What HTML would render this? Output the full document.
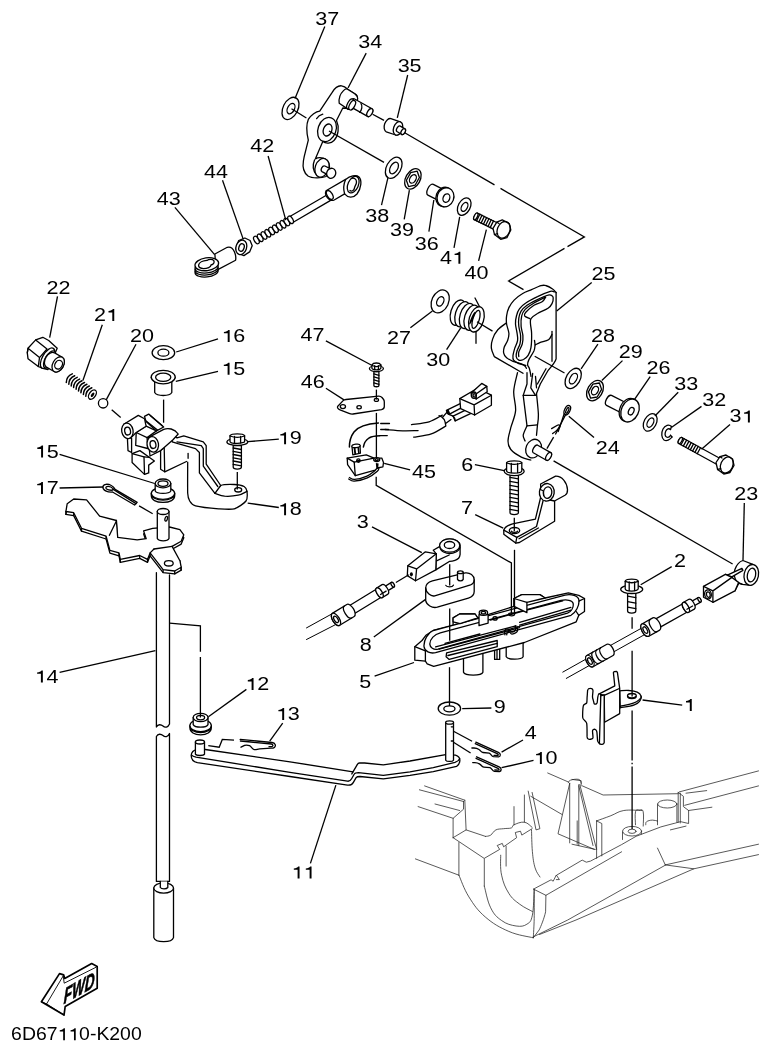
<!DOCTYPE html>
<html><head><meta charset="utf-8"><title>6D67110-K200</title>
<style>
html,body{margin:0;padding:0;background:#fff}
svg{display:block;filter:grayscale(1)}
.p{fill:none;stroke:#000;stroke-width:1.3;stroke-linecap:round;stroke-linejoin:round}
.w{fill:#fff;stroke:#000;stroke-width:1.3;stroke-linecap:round;stroke-linejoin:round}
.l{fill:none;stroke:#000;stroke-width:1.3;stroke-linecap:butt}
.h{fill:none;stroke:#222;stroke-width:.75;stroke-linecap:round;stroke-linejoin:round}
.hw{fill:#fff;stroke:#222;stroke-width:.75;stroke-linecap:round;stroke-linejoin:round}
.k{fill:#000;stroke:none}
.t text,text{font-family:"Liberation Sans",sans-serif;font-size:18.3px;fill:#000}
.cap{font-size:18.3px}
</style></head><body>
<svg width="772" height="1053" viewBox="0 0 772 1053">
<rect width="772" height="1053" fill="#fff"/>
<path class="h" d="M419.4 789.8L463.5 801.5"/>
<path class="h" d="M424.6 785.9L464.8 800.2"/>
<path class="h" d="M418.1 806.6L453.1 818.3"/>
<path class="h" d="M435.0 804.0L459.6 810.5"/>
<path class="h" d="M463.5 801.5L463.5 809.2L453.1 818.3L453.1 837.7"/>
<path class="h" d="M464.8 800.2L466.1 829.9"/>
<path class="h" d="M453.1 837.7L466.1 829.9L485.5 836.4"/>
<path class="h" d="M485.5 836.4C486.5 836.2 488.6 836.4 490.7 835.1C492.7 833.8 493.3 831.2 495.9 829.9C498.4 828.7 500.5 829.1 503.6 828.7C506.7 828.2 509.3 828.7 511.4 827.9C513.5 827.1 511.4 825.9 514.0 824.8C516.6 823.6 520.7 821.7 524.4 822.2C528.0 822.7 530.6 826.3 532.1 827.4"/>
<path class="h" d="M453.1 837.7L484.2 858.4L499.7 849.4L497.2 845.5L502.3 843.4L503.6 846.8L516.6 837.7L515.3 832.5L520.5 831.2L521.8 835.1L532.1 828.7"/>
<path class="h" d="M514.0 806.6L514.0 824.8"/>
<path class="h" d="M524.4 795.0L524.4 822.2"/>
<path class="h" d="M528.2 791.1L536.0 829.9L539.9 828.7L532.1 792.4"/>
<path class="h" d="M530.8 796.3L561.9 814.4"/>
<path class="h" d="M547.7 773.0L568.4 782.0"/>
<path class="h" d="M568.4 782.8C568.8 782.3 568.4 780.9 570.5 780.2C572.5 779.5 576.6 778.8 578.8 779.4C580.9 780.1 580.8 782.5 581.3 783.3"/>
<path class="h" d="M569.7 783.3L558.0 833.8L594.3 849.4"/>
<path class="h" d="M578.8 785.9L593.0 845.5"/>
<path class="h" d="M569.7 783.3L569.7 842.9"/>
<path class="h" d="M578.8 784.6L578.8 845.5"/>
<path class="h" d="M533.5 889.1L551.1 879.8L553.2 881.2L556.3 875.0L559.4 879.6L556.3 879.6"/>
<path class="h" d="M556.9 875.0L582.2 860.1L586.3 862.2L590.5 861.1L621.6 844.6L636.1 836.3L660.9 826.9L680.0 821.8"/>
<path class="h" d="M533.5 889.1L545.9 895.3L621.6 851.8"/>
<path class="h" d="M545.9 895.3L545.6 911.8C544 919 541 926 539.2 929.9L533.3 937.7"/>
<path class="h" d="M622.5 831.2L622.5 839.5M641.4 831.2L641.4 834"/>
<ellipse class="hw" cx="632.1" cy="831.2" rx="9.5" ry="4.8"/>
<ellipse class="h" cx="632.1" cy="831.3" rx="4" ry="2.1"/>
<path class="h" d="M635.5 824.8C635.5 822.2 634.7 814.8 635.5 811.8C636.2 808.9 637.8 810.0 639.4 810.0C640.9 810.0 642.5 808.6 643.2 811.8C644.0 815.0 643.2 823.2 643.2 826.1"/>
<path class="hw" d="M657.5 804L657.5 824.8L676.9 822L676.9 804Z" style="stroke:none"/>
<path class="h" d="M657.5 804.0L657.5 824.8"/>
<path class="h" d="M676.9 804.0L676.9 822.2"/>
<ellipse class="hw" cx="667.3" cy="804" rx="9.6" ry="4"/>
<path class="h" d="M645.8 824.8C646.0 824.1 645.3 822.6 646.6 821.7C647.9 820.7 650.1 820.2 652.3 820.1C654.5 820.0 656.5 820.9 657.5 821.1"/>
<path class="h" d="M678.2 792.4L678.2 822.2"/>
<path class="h" d="M680.3 793.2L680.3 823.0"/>
<path class="h" d="M678.2 792.4L683.4 796.3L683.4 806.6L688.6 810.5L688.6 823.5L680.8 821.7"/>
<path class="h" d="M679.3 791.9L758.5 770.9"/>
<path class="h" d="M684.7 805.3L758.5 785.9"/>
<path class="h" d="M688.6 810.5L711.9 807.2"/>
<path class="h" d="M686.0 793.2L706.7 790.6"/>
<path class="h" d="M582.4 785.9L603.1 795.0L678.2 793.7"/>
<path class="h" d="M579.8 784.6L596.6 849.4"/>
<path class="h" d="M572.0 779.4L581.1 780.7L581.1 785.9"/>
<path class="h" d="M596.6 820.9L601.8 823.5L601.8 855.9"/>
<path class="h" d="M596.6 820.9L596.6 858.4"/>
<path class="h" d="M596.6 820.9C599.5 819.8 605.4 817.8 610.9 815.7C616.3 813.6 617.6 811.6 623.8 810.5C630.0 809.5 638.3 810.5 641.9 810.5"/>
<path class="h" d="M572.0 844.2L595.3 849.4"/>
<path class="h" d="M577.2 820.9L577.2 844.2"/>
<path class="h" d="M657.5 848.1L665.3 864.9"/>
<path class="h" d="M665.3 864.9L758.5 844.2"/>
<path class="h" d="M665.3 864.9L693.8 868.8L758.5 854.6"/>
<path class="h" d="M670.4 829.9L686.0 826.1"/>
<path class="h" d="M458.9 842.5L458.9 875.2"/>
<path class="h" d="M415.4 858.9L458.9 875.2"/>
<path class="h" d="M458.9 875.2C460.9 879.5 463.7 888.6 468.9 896.9C474.2 905.3 477.3 910.0 485.2 916.9C493.2 923.8 499.2 927.2 508.8 931.4C518.4 935.6 528.4 936.5 533.3 937.8"/>
<path class="h" d="M484.3 858.9L484.3 886.1"/>
<path class="h" d="M484.3 886.1C485.6 890.4 487.2 900.9 490.7 907.8C494.1 914.7 496.5 916.9 501.6 920.5C506.6 924.2 511.0 925.2 516.1 926.0C521.1 926.7 523.7 926.3 526.9 924.2C530.2 922.0 530.9 922.0 532.4 915.1C533.8 908.2 533.8 894.8 534.2 889.7"/>
<path class="h" d="M500.7 855.2C500.8 859.2 499.9 867.6 501.6 875.2C503.2 882.8 505.2 887.5 508.8 893.3C512.4 899.1 515.0 900.6 519.7 904.2C524.4 907.8 529.9 910.0 532.4 911.5"/>
<path class="h" d="M506.1 846.2L506.1 866.1"/>
<path class="h" d="M531.5 829.8C531.7 834.2 531.7 844.0 532.4 851.6C533.1 859.2 533.6 862.9 535.1 867.9C536.6 873.0 539.0 875.2 540.0 877.0"/>
<path class="h" d="M534.2 889.7C534.2 893.6 534.3 912.3 534.2 918.7C534.1 925.1 533.4 935.2 533.3 937.8"/>
<path class="h" d="M533 937L567.7 920L665.1 865.3M539.5 934.5L576 920L693.8 868.8"/>
<ellipse class="w" cx="290.5" cy="108.4" rx="7.4" ry="11.9" transform="rotate(27 290.5 108.4)"/>
<ellipse class="p" cx="291" cy="108.6" rx="3.4" ry="5.6" transform="rotate(27 291 108.6)"/>
<path class="w" d="M319.7 111.1L332.2 92.4C334.5 88.5 338 85.5 341.5 85.8C344 86 346 87.5 347.7 89.3L356 94.5C357.6 96 357.6 99 356 101.5L352.5 108.8L342.8 108L336.5 120.5C339.5 127 338.5 136 334 140.5C331 143.5 326 144 322.8 141.5L315.4 158.8C320 156.5 326.5 158 328.8 163C330.3 167 329.5 173 326 176.5C321.5 178.3 312 178.5 308 176C303.5 172.5 302.6 166 303.4 161L304.2 156.7L308.3 140.1C306.4 132 306.4 124 308.3 119.4C311 115 316 111.5 319.7 111.1Z"/>
<path class="p" d="M322.8 114.2C320 115 317.8 116.8 316.6 118.6"/>
<ellipse class="w" cx="327" cy="129.5" rx="9" ry="12.4" transform="rotate(20 327 129.5)"/>
<ellipse class="p" cx="327.6" cy="130" rx="4.2" ry="6.2" transform="rotate(20 327.6 130)"/>
<path class="w" d="M347.1 89L354.7 93.7C357 95.5 358.2 97.8 357.4 100L353.4 108.4L348.3 109.4L339.2 103.2C338.6 98.5 340.5 93.5 343.5 90.6C344.6 89.5 346 88.8 347.1 89Z"/>
<path class="w" d="M349.8 106.4L367.6 116.4A2.4 4.4 29.3 0 0 372.0 108.8L354.2 98.8A2.4 4.4 29.3 0 0 349.8 106.4Z"/>
<ellipse class="w" cx="369.8" cy="112.6" rx="2.4" ry="4.4" transform="rotate(29.3 369.8 112.6)"/>
<path class="p" d="M361 103.6C362.6 105.5 362 110 359.6 112.4"/>
<ellipse class="w" cx="350.2" cy="104" rx="2.6" ry="5.6" transform="rotate(28 350.2 104)"/>
<ellipse class="w" cx="352.2" cy="105.2" rx="2.6" ry="5.2" transform="rotate(28 352.2 105.2)"/>
<path class="p" d="M314.6 159.8C312.5 165 312.5 170.5 316.6 174.8"/>
<ellipse class="w" cx="322" cy="167.8" rx="6.8" ry="9.6" transform="rotate(20 322 167.8)"/>
<path class="w" d="M321.9 171.6L330.0 175.8A2.2 3.2 27.4 0 0 333.0 170.2L324.9 166.0A2.2 3.2 27.4 0 0 321.9 171.6Z"/>
<ellipse class="w" cx="331.5" cy="173.0" rx="2.2" ry="3.2" transform="rotate(27.4 331.5 173.0)"/>
<ellipse class="w" cx="331.2" cy="173.3" rx="4.5" ry="5.1" transform="rotate(20 331.2 173.3)"/>
<path class="w" d="M386.3 131.8L395.7 135.0A4.4 7 18.8 0 0 400.3 121.8L390.9 118.6A4.4 7 18.8 0 0 386.3 131.8Z"/>
<ellipse class="w" cx="398.0" cy="128.4" rx="4.4" ry="7" transform="rotate(18.8 398.0 128.4)"/>
<path class="w" d="M396.9 131.5L401.5 134.3A1.9 3.2 31.3 0 0 404.9 128.9L400.3 126.1A1.9 3.2 31.3 0 0 396.9 131.5Z"/>
<ellipse class="w" cx="403.2" cy="131.6" rx="1.9" ry="3.2" transform="rotate(31.3 403.2 131.6)"/>
<ellipse class="w" cx="393.7" cy="167.8" rx="7.2" ry="11.4" transform="rotate(29 393.7 167.8)"/>
<ellipse class="p" cx="394" cy="168" rx="3.7" ry="6.3" transform="rotate(29 394 168)"/>
<ellipse class="w" cx="412.9" cy="178.9" rx="7.2" ry="11" transform="rotate(29 412.9 178.9)"/>
<path class="p" d="M415.1 185.2L408.6 186.6L406.4 180.3L410.7 172.6L417.2 171.2L419.4 177.5Z"/>
<ellipse class="p" cx="412.9" cy="178.9" rx="3.0" ry="4.6" transform="rotate(29 412.9 178.9)"/>
<path class="w" d="M443.7 189.6L433.3 184.4A3 6 -153.4 0 0 427.9 195.2L438.3 200.4A3 6 -153.4 0 0 443.7 189.6Z"/>
<ellipse class="w" cx="444.3" cy="196.9" rx="8.2" ry="9.8" transform="rotate(20 444.3 196.9)"/>
<ellipse class="w" cx="445.5" cy="197.3" rx="8.3" ry="9.7" transform="rotate(20 445.5 197.3)"/>
<ellipse class="p" cx="446.4" cy="198.1" rx="3.3" ry="4.4" transform="rotate(20 446.4 198.1)"/>
<ellipse class="w" cx="464.2" cy="206.6" rx="6" ry="9.3" transform="rotate(28 464.2 206.6)"/>
<ellipse class="p" cx="464.5" cy="206.9" rx="2.9" ry="4.8" transform="rotate(28 464.5 206.9)"/>
<path class="w" d="M496.6 222.5L477.4 213.1A1.6 3.7 -153.9 0 0 474.2 219.7L493.4 229.1A1.6 3.7 -153.9 0 0 496.6 222.5Z"/>
<ellipse class="w" cx="475.8" cy="216.4" rx="1.6" ry="3.7" transform="rotate(-153.9 475.8 216.4)"/>
<path class="p" d="M476.5 220.9L479.8 214.2"/>
<path class="p" d="M478.8 222.0L482.0 215.3"/>
<path class="p" d="M481.1 223.1L484.3 216.5"/>
<path class="p" d="M483.4 224.2L486.6 217.6"/>
<path class="p" d="M485.7 225.3L488.9 218.7"/>
<path class="p" d="M488.0 226.5L491.2 219.8"/>
<path class="p" d="M490.2 227.6L493.5 220.9"/>
<path class="w" d="M493 228.4L496.8 222.2L502.3 219.8L509.3 223.7L510.8 230L506.9 237.7L500.7 239.3L494.5 234.6Z"/>
<ellipse class="p" cx="503.6" cy="229.8" rx="6.2" ry="8.6" transform="rotate(22 503.6 229.8)"/>
<path class="p" d="M496.8 222.2L499 223.5M494.5 234.6L497.6 233.5"/>
<path class="p" d="M290.3 216.2L326.8 195M293.7 222L330.2 200.6"/>
<ellipse class="w" cx="256.4" cy="240.0" rx="2.2" ry="4.1" transform="rotate(-30.5 256.4 240.0)"/>
<ellipse class="w" cx="260.2" cy="237.8" rx="2.2" ry="4.1" transform="rotate(-30.5 260.2 237.8)"/>
<ellipse class="w" cx="264.0" cy="235.5" rx="2.2" ry="4.1" transform="rotate(-30.5 264.0 235.5)"/>
<ellipse class="w" cx="267.8" cy="233.3" rx="2.2" ry="4.1" transform="rotate(-30.5 267.8 233.3)"/>
<ellipse class="w" cx="271.6" cy="231.0" rx="2.2" ry="4.1" transform="rotate(-30.5 271.6 231.0)"/>
<ellipse class="w" cx="275.4" cy="228.8" rx="2.2" ry="4.1" transform="rotate(-30.5 275.4 228.8)"/>
<ellipse class="w" cx="279.2" cy="226.5" rx="2.2" ry="4.1" transform="rotate(-30.5 279.2 226.5)"/>
<ellipse class="w" cx="283.0" cy="224.3" rx="2.2" ry="4.1" transform="rotate(-30.5 283.0 224.3)"/>
<ellipse class="w" cx="286.8" cy="222.0" rx="2.2" ry="4.1" transform="rotate(-30.5 286.8 222.0)"/>
<ellipse class="w" cx="290.6" cy="219.8" rx="2.2" ry="4.1" transform="rotate(-30.5 290.6 219.8)"/>
<path class="w" d="M326 190.8L345.6 179.4C350 176 356 174.5 359 177C362 180 361.5 188 357 194C353 198.5 348 198 344.6 193.9L334.2 200C331 201.5 327.5 199 326 195.5C325.2 193.5 325.3 192 326 190.8Z"/>
<ellipse class="p" cx="329.8" cy="195" rx="2.6" ry="4.9" transform="rotate(-31 329.8 195)"/>
<ellipse class="p" cx="353.2" cy="184.6" rx="5.2" ry="8.8" transform="rotate(24 353.2 184.6)"/>
<path class="p" d="M351.5 178.5C354 177.5 356.5 179 356.5 182C356.5 185 354.5 186 354.5 188C354 190.5 351.5 192 350 190.5"/>
<path class="p" d="M345.6 179.4C343.5 184 343.5 190 344.6 193.9"/>
<path class="w" d="M238.7 240.5L244.9 238L250.1 240.5L252.2 245.7L249.6 251.9L243.9 255.6L239.5 254L236 248Z"/>
<ellipse class="w" cx="241.3" cy="247.3" rx="5.3" ry="7.4" transform="rotate(18 241.3 247.3)"/>
<ellipse class="p" cx="241.5" cy="247.5" rx="2.6" ry="3.9" transform="rotate(18 241.5 247.5)"/>
<path class="w" d="M214.9 254L227.3 247.3C230.5 246.5 233 248.5 234.5 252C235.8 255 236 258 235.6 260.2L215.9 270.6Z"/>
<ellipse class="w" cx="206.6" cy="271.59999999999997" rx="11.6" ry="5.4" transform="rotate(-6 206.6 271.59999999999997)"/>
<ellipse class="w" cx="206.6" cy="269.59999999999997" rx="11.6" ry="5.4" transform="rotate(-6 206.6 269.59999999999997)"/>
<ellipse class="w" cx="206.6" cy="267.59999999999997" rx="11.6" ry="5.4" transform="rotate(-6 206.6 267.59999999999997)"/>
<ellipse class="w" cx="206.8" cy="264.2" rx="11.9" ry="6.4" transform="rotate(-8 206.8 264.2)"/>
<path class="p" d="M198.6 265.2C199 262.4 203 260.6 207 260.4C208.6 259.2 212.4 258.8 213.8 260.6C214.8 262.6 213.4 264.4 211 265C211 267 207.4 268.6 203.4 268.6C200.4 268.6 198.4 267.2 198.6 265.2Z"/>
<path class="w" d="M28 348.3L35.7 339.9L42.8 337.3L48.7 340.5L57.2 348.2L48 369.5L42.8 368.4L38.3 366.5L28 358.7L27.3 352.8Z"/>
<path class="p" d="M35.7 339.9L47 349M28 348.3L39.5 357.6M27.3 352.8L28 348.3M39.5 357.6L38.3 366.5M39.5 357.6L47 349"/>
<ellipse class="w" cx="47.6" cy="358.2" rx="5.2" ry="11.4" transform="rotate(30 47.6 358.2)"/>
<ellipse class="w" cx="49.6" cy="359.4" rx="4.4" ry="9.6" transform="rotate(30 49.6 359.4)"/>
<path class="w" d="M46.4 367.1L54.1 371.5A5.4 8.2 29.7 0 0 62.3 357.3L54.6 352.9A5.4 8.2 29.7 0 0 46.4 367.1Z"/>
<ellipse class="w" cx="58.2" cy="364.4" rx="5.4" ry="8.2" transform="rotate(29.7 58.2 364.4)"/>
<ellipse class="p" cx="58.6" cy="364.7" rx="3.6" ry="4.6" transform="rotate(30 58.6 364.7)"/>
<path class="p" style="stroke-width:1.5" d="M72.3 373.9Q66.5 376.2 66.3 382.5"/>
<path class="p" style="stroke-width:1.5" d="M74.7 375.7Q69.0 378.0 68.8 384.2"/>
<path class="p" style="stroke-width:1.5" d="M77.2 377.4Q71.4 379.7 71.2 385.9"/>
<path class="p" style="stroke-width:1.5" d="M79.6 379.1Q73.8 381.4 73.6 387.6"/>
<path class="p" style="stroke-width:1.5" d="M82.0 380.8Q76.3 383.1 76.1 389.3"/>
<path class="p" style="stroke-width:1.5" d="M84.5 382.5Q78.7 384.8 78.5 391.0"/>
<path class="p" style="stroke-width:1.5" d="M86.9 384.2Q81.1 386.6 80.9 392.8"/>
<path class="p" style="stroke-width:1.5" d="M89.3 386.0Q83.6 388.3 83.4 394.5"/>
<path class="p" style="stroke-width:1.5" d="M91.8 387.7Q86.0 390.0 85.8 396.2"/>
<ellipse class="w" cx="92.4" cy="394.6" rx="3.2" ry="5.2" transform="rotate(35 92.4 394.6)"/>
<ellipse class="k" cx="92.6" cy="394.8" rx="1.3" ry="2.6" transform="rotate(35 92.6 394.8)"/>
<ellipse class="w" cx="103.1" cy="403.3" rx="4.7" ry="4.7"/>
<ellipse class="w" cx="163.4" cy="352.7" rx="11.3" ry="7"/>
<ellipse class="p" cx="163.4" cy="352.7" rx="5.5" ry="3.5"/>
<path class="w" d="M151.2 377.5L154.7 381.5L154.7 392.5C157 396.5 169.5 396.5 171.8 392.5L171.8 381.5L175.2 377.5Z"/>
<ellipse class="w" cx="163.2" cy="377.1" rx="12" ry="6.8"/>
<ellipse class="p" cx="163.2" cy="377.3" rx="7.6" ry="4.1"/>
<path class="w" d="M187.7 462.2C187.7 465.8 187.5 488.7 187.7 493.3C187.9 497.8 188.8 499.6 189.7 501.0C190.6 502.5 192.1 505.0 195.5 505.9C198.9 506.8 214.3 508.5 218.8 508.8C223.3 509.1 231.2 509.7 234.3 508.8C237.5 507.9 244.5 503.1 246.0 501.0C247.5 499.0 247.2 493.0 247.0 491.3C246.7 489.6 245.5 487.3 244.1 486.5C242.6 485.7 237.1 484.6 234.3 484.5C231.6 484.4 223.0 484.5 220.7 485.5C218.5 486.5 215.6 492.4 214.9 493.3"/>
<path class="p" d="M214.9 493.3C216.5 493.7 220.7 495.8 224.6 496.2C228.5 496.5 234.5 496.0 238.2 495.2C242.0 494.4 245.5 492.0 247.0 491.3"/>
<ellipse class="p" cx="238.2" cy="489.8" rx="3.5" ry="2.2"/>
<path class="w" d="M172.2 435.0L177.0 437.9L183.8 435.9L203.3 441.8L206.2 445.7L206.2 464.1L220.7 485.5L214.9 493.3L199.4 472.9L199.4 452.5L195.5 448.6L178.0 443.7L172.2 441.8Z"/>
<path class="p" d="M177.0 441.8L201.3 445.7L203.3 448.6L203.3 466.1L217.8 486.5"/>
<path class="p" d="M188.1 453.4L188.1 458.3"/>
<path d="M164.2 447.5L164.7 471.8L186.5 461.5L186.5 450.6Z" fill="#fff" stroke="none"/>
<path class="p" d="M164.7 471.8L186.5 461.5"/>
<path class="w" d="M160.6 450.6L164.2 447.5L164.7 471.8L160.6 469.2Z"/>
<path class="w" d="M132.1 453.7L139.9 450.6L149.2 457.3L154.4 461.0L148.7 465.1L148.7 472.9L144.5 474.4L132.1 462.5Z"/>
<path class="p" d="M132.1 453.7L144.0 456.8L144.5 474.4"/>
<path class="p" d="M144.0 456.8L149.2 457.3"/>
<path class="w" d="M127.4 438.2L128.0 450.6L131.6 452.5L131.6 438.2Z"/>
<path class="w" d="M136.2 432.5L146.1 426.2L156.5 430.9L147.1 437.6L147.6 448.5L135.7 445.4Z"/>
<path class="p" d="M136.2 432.5L147.1 437.6"/>
<path class="w" d="M144.5 416.4L148.7 414.1L163.7 427.0L156.5 430.9L146.1 421.6Z"/>
<path class="p" d="M146.1 421.1L157.5 429.9"/>
<path class="p" d="M150.2 415.4L162.2 425.7"/>
<path class="w" d="M123.8 424.2L138.3 415.4L144.5 418.7L146.1 426.2L136.2 432.5L131.6 437.1Z"/>
<ellipse class="w" cx="127.4" cy="430.9" rx="5.7" ry="7.8" transform="rotate(-10 127.4 430.9)"/>
<ellipse class="p" cx="127.6" cy="431.1" rx="2.9" ry="3.9" transform="rotate(-10 127.6 431.1)"/>
<path class="w" d="M148.2 437.6L163.7 429.4C168 427.6 174.5 428.6 178.2 434L173 439.7L164.2 447.5L160.6 450.6L150 456Z"/>
<ellipse class="w" cx="152.8" cy="444.4" rx="5.7" ry="7.8" transform="rotate(-10 152.8 444.4)"/>
<ellipse class="p" cx="153" cy="444.6" rx="2.9" ry="3.9" transform="rotate(-10 153 444.6)"/>
<path class="w" d="M233.20000000000002 445.5L233.20000000000002 467A4.1 2.05 0 0 0 241.4 467L241.4 445.5Z"/>
<path class="p" d="M233.20000000000002 448.0L241.4 449.5"/>
<path class="p" d="M233.20000000000002 451.3L241.4 452.8"/>
<path class="p" d="M233.20000000000002 454.5L241.4 456.0"/>
<path class="p" d="M233.20000000000002 457.8L241.4 459.3"/>
<path class="p" d="M233.20000000000002 461.0L241.4 462.5"/>
<path class="p" d="M233.20000000000002 464.3L241.4 465.8"/>
<ellipse class="w" cx="237.3" cy="441.9" rx="10.4" ry="3.4"/>
<path class="w" d="M230.0 441.4L230.0 435.59999999999997C231.5 433.2 243.10000000000002 433.2 244.60000000000002 435.59999999999997L244.60000000000002 441.4A7.3 1.9 0 0 1 230.0 441.4Z"/>
<path class="p" d="M234.5 436.4L234.5 442.9M240.6 436.4L240.6 442.9"/>
<path class="p" d="M230.0 436.0C234.4 437.59999999999997 240.2 437.59999999999997 244.60000000000002 436.0"/>
<path class="w" d="M151.3 493.3C151.3 497.4 156 500.2 163 500.2C170 500.2 174.7 497.4 174.7 493.3L174.7 495.6C174.7 499.8 170 502.4 163 502.4C156 502.4 151.3 499.8 151.3 495.6Z"/>
<ellipse class="w" cx="163" cy="493.3" rx="11.7" ry="6"/>
<path class="w" d="M155.2 483.4L155.2 491C157 494.2 169 494.2 170.8 491L170.8 483.4Z"/>
<ellipse class="w" cx="163" cy="483.4" rx="7.8" ry="4.4"/>
<ellipse class="p" cx="163" cy="483.6" rx="5" ry="2.7"/>
<path class="w" d="M137.2 502.4L115.1 489.4C113.5 486 109.5 484 106 484.3C103.2 484.6 102.2 486.8 103.2 488.6C104.6 491 109 492.2 112.5 492L134.6 505Z"/>
<path class="p" d="M113.3 488.9C111.5 487 108.5 486.2 106.8 486.6C105.6 487 105.6 488.2 106.6 489C108 490 110.5 490.4 112.5 490.2L113.3 488.9Z"/>
<path class="p" d="M113.3 489.4L136 503.6"/>
<path class="w" d="M65.9 514.4L67.2 506.6L73.7 501.9L86.6 502.7L99.6 519.0L116.4 523.4L117.7 540.3L137.2 542.8L146.2 541.6L143.6 533.8L152.7 531.2L169.5 529.9L179.9 532.5L183.8 537.7L181.2 544.1L172.1 549.3L179.9 563.6L181.2 570.1L174.7 573.9L163.1 572.6L150.1 555.8L147.5 562.3L139.7 558.4L120.3 562.3L119.0 555.8L109.9 553.2L106.1 539.0L81.5 531.2L73.7 515.6Z"/>
<path class="p" d="M65.9 511.5L65.9 514.4"/>
<path class="p" d="M99.6 516.1L99.6 519.0"/>
<path class="p" d="M116.4 520.5L116.4 523.4"/>
<path class="p" d="M172.1 546.4L172.1 549.3"/>
<path class="p" d="M179.9 560.7L179.9 563.6"/>
<path class="p" d="M181.2 567.2L181.2 570.1"/>
<path class="p" d="M174.7 571.0L174.7 573.9"/>
<path class="p" d="M163.1 569.7L163.1 572.6"/>
<path class="p" d="M150.1 552.9L150.1 555.8"/>
<path class="p" d="M147.5 559.4L147.5 562.3"/>
<path class="p" d="M139.7 555.5L139.7 558.4"/>
<path class="p" d="M120.3 559.4L120.3 562.3"/>
<path class="p" d="M119.0 552.9L119.0 555.8"/>
<path class="p" d="M106.1 536.1L106.1 539.0"/>
<path class="p" d="M81.5 528.3L81.5 531.2"/>
<path class="p" d="M73.7 512.7L73.7 515.6"/>
<path class="w" d="M65.9 511.5L67.2 503.7L73.7 499.0L86.6 499.8L99.6 516.1L116.4 520.5L117.7 537.4L137.2 539.9L146.2 538.7L143.6 530.9L152.7 528.3L169.5 527.0L179.9 529.6L183.8 534.8L181.2 541.2L172.1 546.4L179.9 560.7L181.2 567.2L174.7 571.0L163.1 569.7L150.1 552.9L147.5 559.4L139.7 555.5L120.3 559.4L119.0 552.9L109.9 550.3L106.1 536.1L81.5 528.3L73.7 512.7Z"/>
<path class="p" d="M116.4 521.0L109.4 535.3"/>
<path class="p" d="M154.0 549.0L172.1 546.4"/>
<path class="p" d="M150.1 552.9L154.0 549.0"/>
<ellipse class="p" cx="168.8" cy="563.3" rx="4.4" ry="2.7"/>
<path class="w" d="M157.3 511.5L157.3 538.5C159 541.6 167.5 541.6 169 538.5L169 511.5Z"/>
<ellipse class="w" cx="163.1" cy="511.5" rx="5.85" ry="3"/>
<ellipse class="p" cx="166.2" cy="518.7" rx="1.2" ry="2.4" transform="rotate(15 166.2 518.7)"/>
<path class="w" d="M156.4 572.6L156.4 727C158 724 161 724.3 163 726.1C165 727.9 168 727.5 169.5 724L169.5 575"/>
<path class="w" d="M156.4 736.5C158 733.5 161 733.8 163 735.6C165 737.4 168 737 169.5 733.5L169.5 881.4L156.4 881.4Z"/>
<path class="w" d="M153.8 888L153.8 937.6C155.5 943 171.8 943 173.5 937.6L173.5 888"/>
<ellipse class="w" cx="163.65" cy="888" rx="9.85" ry="5.2"/>
<path class="w" d="M160.3 881.4L160.3 887.5C161.5 889.3 166.5 889.3 167.8 887.5L167.8 881.4"/>
<path class="w" d="M189.9 725.6C189.9 730 194.5 732.6 200.6 732.6C206.7 732.6 211.3 730 211.3 725.6L211.3 727.8C211.3 732.2 206.7 734.8 200.6 734.8C194.5 734.8 189.9 732.2 189.9 727.8Z"/>
<ellipse class="w" cx="200.6" cy="725.6" rx="10.7" ry="6.1"/>
<path class="w" d="M193.2 717.5L193.2 724.6C195 728 206.2 728 208 724.6L208 717.5Z"/>
<ellipse class="w" cx="200.6" cy="717.5" rx="7.4" ry="4.2"/>
<ellipse class="p" cx="200.6" cy="717.6" rx="4" ry="2.2"/>
<path class="w" d="M373.9 371.5L373.9 385.5A2.5 1.25 0 0 0 378.9 385.5L378.9 371.5Z"/>
<path class="p" d="M373.9 373.9L378.9 375.4"/>
<path class="p" d="M373.9 376.9L378.9 378.4"/>
<path class="p" d="M373.9 379.9L378.9 381.4"/>
<path class="p" d="M373.9 382.9L378.9 384.4"/>
<ellipse class="w" cx="376.4" cy="368.6" rx="7" ry="3"/>
<path class="w" d="M371.9 368.1L371.9 364.8C373.4 362.40000000000003 379.4 362.40000000000003 380.9 364.8L380.9 368.1A4.5 1.7 0 0 1 371.9 368.1Z"/>
<path class="p" d="M374.7 365.6L374.7 369.5M378.4 365.6L378.4 369.5"/>
<path class="p" d="M371.9 365.20000000000005C374.6 366.8 378.2 366.8 380.9 365.20000000000005"/>
<path class="w" d="M337.8 406.2L343.4 400.4C344 399.8 345 399.6 346 399.5L378.5 396.2C380 396.1 381 396.5 382 397.5L383.6 399.5C384.2 400.3 384.3 401 384.3 402L384.3 406.5C384.3 408.3 383.5 409.2 381.5 409.6L353 414C351.5 414.2 350.5 414 349 413.3L340 409.8C337.5 408.8 337 407.3 337.8 406.2Z"/>
<ellipse class="p" cx="342.9" cy="406.6" rx="2.6" ry="2"/>
<ellipse class="p" cx="359.1" cy="407.2" rx="2.2" ry="1.6"/>
<ellipse class="p" cx="376.4" cy="399.9" rx="2.1" ry="1.5"/>
<path class="p" style="stroke-width:1.5" d="M349.4 447C349.4 441 351 436 354 432C358 427 365 424 378.4 423.1"/>
<path class="p" style="stroke-width:1.5" d="M363.4 447C364 443 366 440 369 438C372 436.4 375 435.9 379.7 435.8"/>
<path class="p" d="M380.7 423.5L389.5 423.5M380.7 429.5L388.5 429.5M379.6 435.6L387.3 435.6"/>
<path class="p" d="M411.5 424.6C414.4 424.1 424.0 423.3 429.1 421.8C434.2 420.2 440.1 416.2 442.3 415.1"/>
<path class="p" d="M385.1 429.5C388.0 429.7 397.2 430.6 402.7 430.8C408.2 431.0 415.5 430.6 418.1 430.6"/>
<path class="p" d="M413.7 437.2C416.6 436.6 426.0 435.7 431.3 433.9C436.6 432.0 443.2 427.4 445.6 426.2"/>
<path class="w" d="M352 446.6L352.8 454.8L360.4 453.2L360 445.6Z"/>
<path class="k" d="M353.4 446.4L354.4 454.4L356.2 454L355.2 446.1ZM357.2 445.8L358.1 453.6L359.6 453.3L358.8 445.6Z"/>
<ellipse class="w" cx="356" cy="445.9" rx="4.2" ry="1.7" transform="rotate(-8 356 445.9)"/>
<path class="w" d="M347.2 458.1L366.3 454.8L374.0 458.1L381.8 458.1L383.5 462.5L382.9 466.9L377.3 468.0L375.1 470.2L355.3 475.7L347.6 464.7Z"/>
<path class="p" d="M347.2 458.1L354.2 462.1L374.0 458.1"/>
<path class="p" d="M354.2 462.1L355.3 475.7"/>
<path class="p" d="M348.7 479.0C349.6 479.4 351.1 481.4 354.2 481.2C357.3 481.0 363.6 479.6 367.4 477.9C371.3 476.3 375.4 473.0 377.3 471.3C379.3 469.6 378.6 468.5 378.9 468.0"/>
<path class="p" d="M349.4 477.5C350.3 477.8 351.7 479.7 354.7 479.4C357.6 479.2 363.6 477.6 367.0 476.1C370.4 474.7 373.8 471.6 375.1 470.6"/>
<ellipse class="w" cx="376.7" cy="459.6" rx="3" ry="2"/>
<ellipse class="p" cx="376.7" cy="459.6" rx="1.5" ry="1"/>
<ellipse class="p" cx="358.4" cy="460.6" rx="1.7" ry="1.7"/>
<path class="p" d="M357 460.8L359.8 460.4"/>
<path class="k" d="M375.8 463L378.6 463.4L378.2 468.8L376.4 469Z"/>
<path class="p" d="M439 415.6C442.4 416.6 445.4 420.4 445.8 425.8"/>
<path class="p" d="M442.6 417.2L446.6 412.6M445.6 423.6L451 419.6"/>
<path class="w" d="M446.4 410.4L462.8 402.4L472 407L472 412.9L455.2 420.9L453.1 416.2L449 414.4Z"/>
<path class="p" d="M453.1 416.2L471.2 407.4M449 414.4L465.6 405.6"/>
<path class="k" d="M446 410.6L448.6 409.4L450.2 413.6L449.4 415.2L446.8 414Z"/>
<path class="p" d="M453.1 416.2C454.6 417.4 455.4 419.2 455.2 420.9"/>
<path class="w" d="M459.8 398.6L477.5 388.3L491.4 395.2L491.4 405.3L474.6 415L460.6 408.6Z"/>
<path class="p" d="M459.8 398.6L474.1 404.9L491.4 395.2M474.1 404.9L474.6 415"/>
<path class="w" d="M471.2 393.1L481.7 383.4L486.8 386.4L487.2 391.8L476.2 399L471.4 396.4Z"/>
<path class="p" d="M471.2 393.1L476 394L486.8 386.4M476 394L476.2 399"/>
<ellipse class="w" cx="474" cy="395.2" rx="2.4" ry="3.2"/>
<ellipse class="p" cx="474.2" cy="395.4" rx="1.1" ry="1.8"/>
<path class="w" d="M510.00000000000006 474.5L510.00000000000006 512.5A4.2 2.1 0 0 0 518.4000000000001 512.5L518.4000000000001 474.5Z"/>
<path class="p" d="M510.00000000000006 477.4L518.4000000000001 478.9"/>
<path class="p" d="M510.00000000000006 481.4L518.4000000000001 482.9"/>
<path class="p" d="M510.00000000000006 485.4L518.4000000000001 486.9"/>
<path class="p" d="M510.00000000000006 489.4L518.4000000000001 490.9"/>
<path class="p" d="M510.00000000000006 493.4L518.4000000000001 494.9"/>
<path class="p" d="M510.00000000000006 497.4L518.4000000000001 498.9"/>
<path class="p" d="M510.00000000000006 501.4L518.4000000000001 502.9"/>
<path class="p" d="M510.00000000000006 505.4L518.4000000000001 506.9"/>
<path class="p" d="M510.00000000000006 509.4L518.4000000000001 510.9"/>
<ellipse class="w" cx="514.2" cy="471.2" rx="10" ry="4.4"/>
<path class="w" d="M506.6 470.7L506.6 462.59999999999997C508.1 460.2 520.3000000000001 460.2 521.8000000000001 462.59999999999997L521.8000000000001 470.7A7.6 2.4 0 0 1 506.6 470.7Z"/>
<path class="p" d="M511.3 463.4L511.3 472.5M517.6 463.4L517.6 472.5"/>
<path class="p" d="M506.6 463.0C511.2 464.59999999999997 517.2 464.59999999999997 521.8000000000001 463.0"/>
<path class="w" d="M503.8 530.1C504.5 527.5 507 525.6 512.6 523.9L535.4 519.2L540.6 497.5L554.6 499L554.6 521.3L519.4 542.5L515.7 543.1L503.8 534.2Z"/>
<path class="p" d="M503.8 530.1L516.8 537.4L536.5 526.5L543.4 499.5"/>
<path class="p" d="M516.8 537.4L515.7 543.1"/>
<path class="p" d="M519 538.8L538.4 528"/>
<ellipse class="p" cx="514.5" cy="530.6" rx="5.2" ry="3.1"/>
<path class="p" d="M511.4 531.2C512 532.8 517 532.8 517.6 531.2"/>
<path class="w" d="M540.6 484L555.6 476.2C562 476 567 482.5 567.5 489.7C567.6 492 566.5 494.3 565 495.2L554.5 501L541 498Z"/>
<ellipse class="w" cx="546.8" cy="492.3" rx="7.4" ry="8.8" transform="rotate(8 546.8 492.3)"/>
<ellipse class="p" cx="547.6" cy="492.6" rx="4.2" ry="5.8" transform="rotate(8 547.6 492.6)"/>
<path class="p" d="M540.4 489.5L543.4 491L543.6 495.5"/>
<path class="w" d="M433.2 550.2L439.9 546.4C440.5 541.5 444.5 538.8 449.7 538.8C455.5 538.8 459.8 541.8 460.1 545.5L460.1 554.4C459.8 557.5 457.5 559.6 455 560.3C453 560.9 451.5 561.2 449.7 561.3L435.8 569.9L436.3 553.8Z"/>
<path class="p" d="M439.9 547C440.2 549.5 441.5 551 443.5 552C447 553.7 452.5 553.7 456 552C458.2 550.9 459.6 549.2 459.9 547.1"/>
<ellipse class="w" cx="449.7" cy="545.5" rx="10.1" ry="6.7"/>
<ellipse class="p" cx="449.5" cy="545" rx="5.2" ry="3.5"/>
<path class="p" d="M436.5 560.9L449.2 555"/>
<path class="w" d="M407.8 565.8L425.4 551.8L436.3 553.8L435.8 569.9L415.5 580.8L407.3 575.6Z"/>
<path class="p" d="M407.8 565.8L416.6 568.9L436.3 553.8M416.6 568.9L415.5 580.8"/>
<ellipse class="k" cx="411.4" cy="574.3" rx="1.5" ry="2.1"/>
<path class="p" style="stroke-width:1" d="M332.4 613.6L306.5 627.9M338.9 622.9L306.5 639.5"/>
<path class="w" d="M385.6 592.1L394.1 586.9A1.3 2.6 -31.5 0 0 391.4 582.4L382.8 587.7A1.3 2.6 -31.5 0 0 385.6 592.1Z"/>
<ellipse class="w" cx="392.7" cy="584.7" rx="1.3" ry="2.6" transform="rotate(-31.5 392.7 584.7)"/>
<path class="w" d="M353.0 614.5L382.0 596.8A2.3 4.7 -31.5 0 0 377.0 588.7L348.0 606.5A2.3 4.7 -31.5 0 0 353.0 614.5Z"/>
<ellipse class="w" cx="379.5" cy="592.8" rx="2.3" ry="4.7" transform="rotate(-31.5 379.5 592.8)"/>
<path class="w" d="M382.1 584.6L376.6 588.0A2.6 5.6 148.5 0 0 382.4 597.5L388.0 594.1A2.6 5.6 148.5 0 0 382.1 584.6Z"/>
<ellipse class="w" cx="379.5" cy="592.8" rx="2.6" ry="5.6" transform="rotate(148.5 379.5 592.8)"/>
<path class="p" d="M386.1 591.1L380.5 594.5"/>
<path class="w" d="M346.8 604.5L332.3 613.4A3.4 7 148.5 0 0 339.7 625.3L354.2 616.5A3.4 7 148.5 0 0 346.8 604.5Z"/>
<ellipse class="w" cx="336.0" cy="619.4" rx="3.4" ry="7" transform="rotate(148.5 336.0 619.4)"/>
<ellipse class="p" cx="336.0" cy="619.4" rx="1.8" ry="3.6" transform="rotate(-31.5 336.0 619.4)"/>
<path class="p" d="M351.6 618.0A3.4 7 -31.5 0 1 344.3 606.1"/>
<path class="w" d="M425.7 588L425.7 600.7C426.5 605 432 608.5 437.3 607.2L468.4 598.1C472 597 474.2 594.5 474.2 591.6L474.2 579.8C474.2 575.6 470 572.4 465.4 572.9L432.4 580.8C428 582 425.7 585 425.7 588Z"/>
<path class="p" d="M425.7 588C426 592.8 431 596.8 434.7 595.8L470.6 584.9C473.2 584 474.2 582 474.2 579.8"/>
<path class="p" d="M445.8 585.4C446.5 587.3 452.5 587.3 453.4 585.2"/>
<path class="w" d="M457.5 572.4L457.5 579.4C458.6 581.4 462.2 581.4 463.2 579.4L463.2 572.4Z"/>
<ellipse class="w" cx="460.35" cy="572.3" rx="2.85" ry="1.4"/>
<path class="w" d="M463.5 655L463.5 672.3C465 676 481.5 676 482.9 672.3L482.9 652Z"/>
<path class="w" d="M506.2 640L506.2 656.8C508 660 521.5 660 523.1 656.8L523.1 638Z"/>
<path class="w" d="M494.6 648L494.6 659.4L499.7 659.4L499.7 646Z"/>
<path class="p" d="M497 648L497 659"/>
<path class="w" d="M414.8 646.7L422.0 640.5L425.9 635.3L433.7 630.4L453.1 625.7L453.1 617.9L459.6 614.0L475.1 614.0L477.7 617.9L514.0 606.3L514.0 598.5L521.8 594.6L539.9 594.6L545.1 598.0L568.4 592.8L578.8 595.4L584.5 598.5L584.5 611.5L578.8 615.3L576.2 621.8L524.4 642.5L433.7 666.4L427.2 663.8L425.4 661.2L414.8 660.2Z"/>
<path class="w" d="M433.3 630.5L565 595.1C571 593.8 578.5 595.5 579 600.5C579.3 605.5 576 612.5 571 615.3L435.6 652.6C430 654 424.6 651.5 424 646.5C423.6 640 428 632.6 433.3 630.5Z"/>
<path class="p" d="M440.3 632.8L561 600.4C566.5 599.4 572.6 600 573.2 603.7C573.6 607.4 571.5 611.5 567.5 613.2L438 649.1C433.5 650 430 647.5 429.8 644.1C429.8 639 434.5 634.3 440.3 632.8Z"/>
<path class="p" d="M435.6 646.8L516.1 625.8"/>
<path class="p" d="M439.1 649.1L519.6 627.7"/>
<path class="p" d="M445.0 643.3L479.9 634.0"/>
<path class="p" d="M490.4 620.0L526.6 610.2L562.7 600.9"/>
<path class="p" d="M519.6 625.1L570.9 610.2"/>
<path class="p" d="M519.6 622.3L570.9 607.4"/>
<path class="p" d="M425.4 650.8L425.4 661.2"/>
<path class="p" d="M414.8 646.7L425.4 650.8"/>
<path class="p" d="M578.8 601.1L584.5 598.5"/>
<path class="p" d="M576.2 611.5L578.8 615.3"/>
<path class="p" d="M446.6 652.9L497.2 640.5L497.2 646.7L449.2 659.4L446.1 656.8Z"/>
<path class="p" d="M447.9 655.5L497.2 643.3"/>
<path class="w" d="M514.0 598.5L521.8 594.6L539.9 594.6L545.1 598.0L526.9 602.4L526.9 612.7L514.0 606.3Z"/>
<path class="p" d="M514.0 598.5L526.9 602.4"/>
<path class="w" d="M453.1 617.9L459.6 614.0L475.1 614.0L477.7 617.9L460.1 623.6L453.1 621.8Z"/>
<path class="w" d="M479.0 614.6L479.0 625.7L488.1 623.1L488.1 614.6Z"/>
<ellipse class="w" cx="483.4" cy="612.7" rx="4.2" ry="2.6"/>
<ellipse class="p" cx="483.4" cy="612.7" rx="2.2" ry="1.3"/>
<ellipse class="p" cx="495.1" cy="618.4" rx="2.1" ry="1.7"/>
<ellipse class="p" cx="511.6" cy="614.3" rx="3" ry="1.5"/>
<path class="p" d="M504.9 634.8C504.9 634.0 504.3 631.1 504.9 630.1C505.6 629.2 507.6 628.7 508.8 629.1C510.0 629.4 510.8 632.0 511.9 632.2C513.0 632.3 514.7 631.2 515.3 630.1C515.8 629.0 515.3 626.4 515.3 625.7"/>
<path class="p" d="M506.7 634.8C506.8 634.3 506.8 632.7 507.3 632.2C507.7 631.7 508.5 631.3 509.3 631.7C510.1 632.0 510.6 634.2 511.9 634.2C513.2 634.2 516.2 633.0 517.1 631.7C518.0 630.4 517.1 627.3 517.1 626.5"/>
<ellipse class="w" cx="449.4" cy="708.6" rx="11.2" ry="6.6"/>
<ellipse class="p" cx="449.4" cy="708.8" rx="5.6" ry="3"/>
<ellipse class="w" cx="440.2" cy="301.4" rx="8.4" ry="12" transform="rotate(25 440.2 301.4)"/>
<ellipse class="p" cx="440.3" cy="301.4" rx="3.3" ry="5" transform="rotate(25 440.3 301.4)"/>
<path class="p" d="M475 298L481.8 311"/>
<ellipse class="w" cx="458.0" cy="312.6" rx="7.2" ry="13" transform="rotate(17 458.0 312.6)"/>
<ellipse class="w" cx="462.6" cy="314.3" rx="7.2" ry="13" transform="rotate(17 462.6 314.3)"/>
<ellipse class="w" cx="467.2" cy="316.0" rx="7.2" ry="13" transform="rotate(17 467.2 316.0)"/>
<ellipse class="w" cx="471.8" cy="317.7" rx="7.2" ry="13" transform="rotate(17 471.8 317.7)"/>
<ellipse class="w" cx="476.4" cy="319.4" rx="7.2" ry="13" transform="rotate(17 476.4 319.4)"/>
<ellipse class="p" cx="476" cy="319.4" rx="3.2" ry="9.4" transform="rotate(17 476 319.4)"/>
<ellipse class="k" cx="472.2" cy="318.2" rx="1.1" ry="7" transform="rotate(24 472.2 318.2)"/>
<path class="p" d="M476 332.5L476 343.3"/>
<path class="w" d="M506.6 322.8C505.1 324.0 500.2 327.1 497.8 329.8C495.5 332.5 493.6 336.0 492.6 339.1C491.5 342.2 491.1 345.5 491.4 348.4C491.7 351.4 493.8 355.2 494.3 356.6L526.4 375.3"/>
<path class="w" d="M556.1 292.5L552.6 289.0L545.6 285.5L541.0 285.7L531.6 289.6L522.3 293.7L514.1 300.1L508.9 307.6L506.6 315.8L506.6 324.0L508.9 333.3L507.7 340.3L504.2 347.3L503.7 353.1L506.6 357.8L513.0 361.3L523.5 364.8L526.4 368.3L513.7 391.6L515.6 410.6L510.8 427.7L508.0 441.0L510.8 449.5L521.3 457.1L530.8 460.0L542.2 452.4L536.5 435.3L537.4 425.8L538.4 414.4L536.5 393.5L540.3 384.0L547.9 370.7L553.8 363.6L556.1 358.9L556.1 292.5Z" style="stroke:none"/>
<path class="p" d="M556.1 292.5C555.5 291.9 554.4 290.2 552.6 289.0C550.9 287.8 547.6 286.0 545.6 285.5C543.7 284.9 543.3 285.0 541.0 285.7C538.6 286.4 534.7 288.3 531.6 289.6C528.5 290.9 525.2 291.9 522.3 293.7C519.4 295.4 516.4 297.7 514.1 300.1C511.9 302.4 510.2 305.0 508.9 307.6C507.6 310.3 507.0 313.1 506.6 315.8C506.2 318.5 506.2 321.0 506.6 324.0C507.0 326.9 508.7 330.6 508.9 333.3C509.1 336.0 508.5 338.0 507.7 340.3C507.0 342.6 504.9 345.1 504.2 347.3C503.6 349.4 503.3 351.4 503.7 353.1C504.0 354.9 505.0 356.4 506.6 357.8C508.1 359.1 510.2 360.1 513.0 361.3C515.8 362.4 521.2 363.6 523.5 364.8C525.7 365.9 525.9 367.7 526.4 368.3"/>
<path class="p" d="M554.4 291.9C553.7 291.8 553.1 290.5 550.3 291.3C547.5 292.1 541.5 294.6 537.5 296.6C533.4 298.5 528.8 300.9 525.8 303.0C522.8 305.0 520.9 306.7 519.4 308.8C517.8 310.9 517.1 313.3 516.5 315.8C515.8 318.3 515.4 321.0 515.5 324.0C515.6 326.9 516.7 330.6 517.1 333.3C517.4 336.0 518.0 337.8 517.6 340.3C517.3 342.8 515.5 345.9 514.7 348.4C514.0 351.0 513.2 353.5 513.0 355.4C512.8 357.4 512.6 358.7 513.6 360.1C514.5 361.5 516.8 362.7 518.8 363.6C520.8 364.5 524.6 365.1 525.8 365.3"/>
<path class="p" d="M553.2 297.7C553.1 296.4 552.3 295.8 551.4 295.4C550.6 295.0 550.5 294.3 548.0 295.1C545.4 295.8 539.8 298.4 536.3 300.1C532.8 301.8 529.5 303.5 527.0 305.3C524.4 307.2 522.5 309.0 521.1 311.1C519.8 313.3 519.2 315.6 518.8 318.1C518.4 320.7 518.5 323.4 518.8 326.3C519.1 329.2 520.4 332.7 520.6 335.6C520.8 338.5 520.6 341.3 520.0 343.8C519.4 346.3 517.7 348.6 517.1 350.8C516.4 352.9 516.0 355.0 516.2 356.6C516.5 358.2 517.6 359.6 518.8 360.1C520.0 360.6 521.9 360.3 523.5 359.5C525.0 358.7 526.9 357.5 528.1 355.4C529.4 353.4 530.5 351.0 531.0 347.3C531.6 343.6 531.7 337.2 531.6 333.3C531.5 329.4 530.6 326.4 530.5 324.0C530.4 321.5 529.9 320.5 531.0 318.7C532.2 317.0 534.6 315.2 537.5 313.5C540.3 311.7 545.5 309.9 548.0 308.2C550.4 306.6 551.2 305.3 552.0 303.6C552.9 301.8 553.3 299.1 553.2 297.7Z"/>
<path class="p" d="M545.6 297.1C543.7 298.1 537.4 300.9 534.0 303.0C530.6 305.0 527.3 307.3 525.2 309.4C523.2 311.5 522.4 313.0 521.7 315.8C521.0 318.6 520.9 323.0 521.1 326.3C521.3 329.6 522.7 332.7 522.9 335.6C523.1 338.5 523.0 341.1 522.3 343.8C521.6 346.5 519.4 349.8 518.8 351.9C518.2 354.1 518.8 355.8 518.8 356.6"/>
<path class="p" d="M545.6 297.1C545.0 297.9 544.1 300.5 542.1 301.8C540.2 303.2 536.7 303.6 534.0 305.3C531.2 307.1 527.4 310.6 525.8 312.3C524.2 314.1 524.0 314.7 524.6 315.8C525.3 316.9 529.0 318.2 529.9 318.7"/>
<path class="p" d="M556.1 292.5L556.1 358.9C555.5 362 552 366 547.9 370.7L540.3 384L536.5 393.5"/>
<path class="p" d="M552 331.5L552 361.3"/>
<path class="p" d="M552.0 334.5C551.4 335.3 550.6 338.3 548.5 339.7C546.5 341.1 542.0 341.7 539.8 342.6C537.6 343.5 535.9 344.6 535.1 344.9L534.5 340.3"/>
<path class="p" d="M535.1 344.9C534.9 345.9 535.0 348.2 534.0 350.8C532.9 353.3 529.8 357.8 528.7 360.1C527.6 362.4 527.5 363.4 527.6 364.8C527.6 366.1 528.7 366.3 529.3 368.3C529.9 370.2 530.8 375.1 531.0 376.4"/>
<path class="p" d="M517.5 372.6C516.9 375.7 514.0 385.2 513.7 391.6C513.4 397.9 516.1 404.6 515.6 410.6C515.1 416.6 512.1 422.6 510.8 427.7C509.6 432.7 508.0 437.3 508.0 441.0C508.0 444.6 508.6 446.8 510.8 449.5C513.1 452.2 518.0 455.4 521.3 457.1C524.6 458.9 529.2 459.5 530.8 460.0"/>
<path class="p" d="M536.5 393.5C536.8 397.0 538.2 409.0 538.4 414.4C538.5 419.8 537.8 422.3 537.4 425.8C537.1 429.3 536.6 433.7 536.5 435.3"/>
<path class="p" d="M527.0 372.6L527.0 384.0L523.2 395.4L535.5 395.4"/>
<path class="p" d="M532.7 373.5L530.8 387.8L535.5 395.4"/>
<path class="p" d="M535.5 376.4L536.5 387.8"/>
<path class="p" d="M546.0 368.8L537.4 384.0"/>
<path class="p" d="M523.2 395.4L527.0 425.8L537.4 424.8"/>
<path class="p" d="M527.0 425.8C526.4 427.4 523.5 432.7 523.2 435.3C522.9 437.8 524.8 440.0 525.1 441.0"/>
<ellipse class="w" cx="533.6" cy="448.6" rx="7.6" ry="9.6" transform="rotate(24 533.6 448.6)"/>
<path class="w" d="M533.3 452.8L546.4 460.2A2.3 4.4 29.5 0 0 550.8 452.6L537.7 445.2A2.3 4.4 29.5 0 0 533.3 452.8Z"/>
<ellipse class="w" cx="548.6" cy="456.4" rx="2.3" ry="4.4" transform="rotate(29.5 548.6 456.4)"/>
<ellipse class="w" cx="573.2" cy="378.4" rx="6.9" ry="11" transform="rotate(30 573.2 378.4)"/>
<ellipse class="p" cx="573.4" cy="378.6" rx="3.3" ry="5.8" transform="rotate(30 573.4 378.6)"/>
<ellipse class="w" cx="595" cy="390.6" rx="7.4" ry="11" transform="rotate(30 595 390.6)"/>
<path class="p" d="M597.2 397.0L590.6 398.2L588.4 391.8L592.8 384.2L599.4 383.0L601.6 389.4Z"/>
<ellipse class="p" cx="595" cy="390.6" rx="3.1" ry="4.6" transform="rotate(30 595 390.6)"/>
<path class="w" d="M628.5 404.0L611.5 395.4A3 5.6 -153.2 0 0 606.5 405.4L623.5 414.0A3 5.6 -153.2 0 0 628.5 404.0Z"/>
<ellipse class="w" cx="628.4" cy="409.8" rx="8.6" ry="12" transform="rotate(25 628.4 409.8)"/>
<ellipse class="w" cx="630" cy="410.5" rx="8.6" ry="12" transform="rotate(25 630 410.5)"/>
<ellipse class="p" cx="631.2" cy="411.2" rx="2.6" ry="3.9" transform="rotate(25 631.2 411.2)"/>
<ellipse class="w" cx="650.2" cy="422.4" rx="6.1" ry="9.4" transform="rotate(28 650.2 422.4)"/>
<ellipse class="p" cx="650.4" cy="422.6" rx="2.9" ry="5" transform="rotate(28 650.4 422.6)"/>
<path class="p" d="M671.5 426.5C669 424 665 425 663 429C661 433 661.5 438 664 440C666.5 441.5 670 440 672 437"/>
<path class="p" d="M670.5 429.5C669 428 666.8 428.8 665.8 431C664.8 433.5 665 436 666.5 437C668 437.7 669.6 436.8 670.6 435.3"/>
<path class="p" d="M671.5 426.5L670.5 429.5M672 437L670.6 435.3"/>
<path class="w" d="M721.1 459.0L681.9 437.5A1.6 3.4 -151.3 0 0 678.7 443.5L717.9 465.0A1.6 3.4 -151.3 0 0 721.1 459.0Z"/>
<ellipse class="w" cx="680.3" cy="440.5" rx="1.6" ry="3.4" transform="rotate(-151.3 680.3 440.5)"/>
<path class="p" d="M681.0 444.8L684.3 438.8"/>
<path class="p" d="M683.3 446.1L686.6 440.1"/>
<path class="p" d="M685.7 447.3L688.9 441.4"/>
<path class="p" d="M688.0 448.6L691.2 442.6"/>
<path class="p" d="M690.3 449.9L693.5 443.9"/>
<path class="p" d="M692.6 451.1L695.8 445.2"/>
<path class="p" d="M694.9 452.4L698.2 446.4"/>
<path class="p" d="M697.2 453.7L700.5 447.7"/>
<path class="w" d="M716 462.5L720 456.6L726 455L732.6 459L734 465.5L730 472.5L723.8 474L717.6 469.5Z"/>
<ellipse class="p" cx="726.8" cy="465" rx="6" ry="8.4" transform="rotate(24 726.8 465)"/>
<path class="p" d="M720 456.6L722 458M717.6 469.5L720.8 468.6"/>
<ellipse class="w" cx="567.3" cy="410.2" rx="2.7" ry="5" transform="rotate(25 567.3 410.2)"/>
<ellipse class="p" cx="567.3" cy="410.4" rx="1.1" ry="3.1" transform="rotate(25 567.3 410.4)"/>
<path class="p" d="M565.6 414.6L555.6 434"/>
<path class="p" d="M564.2 413.8L558.2 431.6"/>
<path class="p" d="M551.6 428.6L557.4 425.2C559.2 424.2 560.8 425.6 559.6 427.4L556.4 430.6C555.2 431.8 553.6 432.8 552.6 433.6"/>
<path class="w" d="M752.8 564.4L742.9 560.5C739.5 561.5 736.5 565 734.9 569.5C733.6 574 734.5 578.5 736.9 581.5C738.5 583.2 740.5 584 742.4 584.4L751 585.4Z"/>
<path class="w" d="M725.4 574.4L727.9 574.9L741.9 568.4L742.9 570.4L731.9 576.9Z"/>
<path class="p" d="M731.9 577.4L738.9 582.9L742.4 584.4M738.9 582.9L734.9 590.9"/>
<path class="w" d="M703.5 586.4L725.4 574.4L731.9 577.4L738.6 582.6L734.9 590.9L712.9 602.3L703.5 597.3Z"/>
<path class="p" d="M703.5 586.4L712.9 590.9L731.9 577.4M712.9 590.9L712.9 602.3"/>
<ellipse class="p" cx="708" cy="594.4" rx="3.3" ry="4.5" transform="rotate(-12 708 594.4)"/>
<ellipse class="p" cx="708.3" cy="594.6" rx="1.8" ry="2.8" transform="rotate(-12 708.3 594.6)"/>
<ellipse class="w" cx="751.3" cy="574.9" rx="7.2" ry="10.5" transform="rotate(12 751.3 574.9)"/>
<ellipse class="p" cx="751.5" cy="575" rx="4.1" ry="6.9" transform="rotate(12 751.5 575)"/>
<path class="w" d="M627.6 592.5L627.6 611A4.1 2.05 0 0 0 635.8000000000001 611L635.8000000000001 592.5Z"/>
<path class="p" d="M627.6 596.1L635.8000000000001 597.6"/>
<path class="p" d="M627.6 601.6L635.8000000000001 603.1"/>
<path class="p" d="M627.6 607.1L635.8000000000001 608.6"/>
<ellipse class="w" cx="631.7" cy="589.3" rx="11" ry="4.2"/>
<path class="w" d="M625.2 588.8L625.2 581.0C626.7 578.5999999999999 636.7 578.5999999999999 638.2 581.0L638.2 588.8A6.5 2.3 0 0 1 625.2 588.8Z"/>
<path class="p" d="M629.2 581.8L629.2 590.6M634.6 581.8L634.6 590.6"/>
<path class="p" d="M625.2 581.4C629.1 583.0 634.3 583.0 638.2 581.4"/>
<path class="p" style="stroke-width:1" d="M566.3 678.4L591.7 664.2M562.8 672.1L588.1 657.9"/>
<path class="p" style="stroke-width:1" d="M611.7 653.0L647.1 633.2M608.2 646.7L643.6 627.0"/>
<path class="w" d="M606.9 644.3L586.8 655.5A3.2 6.4 150.8 0 0 593.0 666.7L613.1 655.5A3.2 6.4 150.8 0 0 606.9 644.3Z"/>
<ellipse class="w" cx="589.9" cy="661.1" rx="3.2" ry="6.4" transform="rotate(150.8 589.9 661.1)"/>
<path class="p" d="M599.0 663.3A3.2 6.4 -29.2 0 1 592.8 652.1"/>
<path class="p" d="M603.1 661.1A3.2 6.4 -29.2 0 1 596.8 649.9"/>
<path class="p" d="M607.1 658.8A3.2 6.4 -29.2 0 1 600.8 647.6"/>
<ellipse class="p" cx="589.9" cy="661.1" rx="1.8" ry="3.6" transform="rotate(-29.2 589.9 661.1)"/>
<path class="w" d="M692.0 607.0L700.7 602.1A1.3 2.6 -29.2 0 0 698.2 597.6L689.5 602.5A1.3 2.6 -29.2 0 0 692.0 607.0Z"/>
<ellipse class="w" cx="699.5" cy="599.8" rx="1.3" ry="2.6" transform="rotate(-29.2 699.5 599.8)"/>
<path class="w" d="M658.5 628.1L688.2 611.5A2.3 4.7 -29.2 0 0 683.6 603.3L654.0 619.9A2.3 4.7 -29.2 0 0 658.5 628.1Z"/>
<ellipse class="w" cx="685.9" cy="607.4" rx="2.3" ry="4.7" transform="rotate(-29.2 685.9 607.4)"/>
<path class="w" d="M688.9 599.3L683.2 602.5A2.6 5.6 150.8 0 0 688.7 612.3L694.3 609.1A2.6 5.6 150.8 0 0 688.9 599.3Z"/>
<ellipse class="w" cx="685.9" cy="607.4" rx="2.6" ry="5.6" transform="rotate(150.8 685.9 607.4)"/>
<path class="p" d="M692.6 606.0L686.9 609.2"/>
<path class="w" d="M652.8 617.9L641.9 624.0A3.4 7 150.8 0 0 648.8 636.2L659.7 630.1A3.4 7 150.8 0 0 652.8 617.9Z"/>
<ellipse class="w" cx="645.3" cy="630.1" rx="3.4" ry="7" transform="rotate(150.8 645.3 630.1)"/>
<ellipse class="p" cx="645.3" cy="630.1" rx="1.8" ry="3.6" transform="rotate(-29.2 645.3 630.1)"/>
<path class="p" d="M657.0 631.6A3.4 7 -29.2 0 1 650.2 619.4"/>
<path class="w" d="M619.7 690.8C622.0 690.7 625.3 690.1 629.4 690.5C633.5 690.8 634.5 690.9 637.2 692.2C639.9 693.5 640.4 694.2 641.1 696.1C641.8 698.0 641.9 698.1 640.3 700.2C638.7 702.2 639.0 703.1 634.3 704.8C629.6 706.6 623.5 707.1 620.2 707.8Z"/>
<path class="p" d="M641.1 696.3C640.8 696.9 641.7 697.4 639.9 699.0C638.1 700.6 637.9 701.5 633.3 703.2C628.7 704.9 623.3 705.6 620.2 706.3"/>
<ellipse class="p" cx="631.9" cy="696.1" rx="4.4" ry="2.6"/>
<path class="p" d="M628.2 696.8C629 698.2 634.6 698.2 635.6 696.6"/>
<path class="w" d="M598.8 694.2L614.8 685.9L613.4 672.6L614.1 671.6L616.6 671.4L617.4 672.4L619.7 688.3L619.7 713.6L604.6 722.3L604.2 695.1Z"/>
<path class="p" d="M604.2 695.3L619.3 688.5"/>
<path class="w" d="M598.8 694.2C598.5 694.3 598.0 696.1 597.8 697.1C597.6 698.0 597.4 701.6 597.2 702.4C596.9 703.2 596.2 703.9 595.9 704.1C595.6 704.2 594.5 704.0 594.2 703.7C594.0 703.3 593.7 701.7 593.5 701.0C593.3 700.2 592.5 698.3 592.5 697.1C592.4 695.9 593.0 691.7 593.0 690.8C592.9 689.8 592.3 689.1 592.0 688.8C591.7 688.5 590.9 688.3 590.5 688.3C590.2 688.3 588.9 688.6 588.6 688.8C588.3 689.1 587.8 689.5 587.6 690.5C587.5 691.4 587.3 695.6 587.1 697.1C587.0 698.5 587.1 701.9 586.7 702.9C586.2 703.9 583.7 704.1 583.3 705.8C582.8 707.6 582.4 715.9 582.8 718.0C583.2 720.0 586.2 721.1 586.7 723.3C587.2 725.5 587.0 735.1 587.1 736.9C587.3 738.7 587.8 738.6 588.1 738.9C588.4 739.2 589.2 739.4 589.6 739.4C590.0 739.4 591.3 739.1 591.7 738.9C592.1 738.7 592.9 738.6 593.0 737.7C593.1 736.8 592.5 732.0 592.5 731.1C592.5 730.1 593.0 729.9 593.3 729.6C593.5 729.4 594.1 729.1 594.4 729.1C594.7 729.2 595.6 729.6 595.9 729.9C596.2 730.3 596.7 730.8 596.9 732.1C597.1 733.3 597.4 739.6 597.6 740.8C597.9 742.0 598.5 742.5 598.8 742.7C599.1 742.9 600.2 745.3 600.5 742.6C600.7 739.8 600.7 724.9 600.8 719.4C600.8 713.9 601.0 698.6 600.8 695.6C600.5 692.7 599.1 694.0 598.8 694.2Z"/>
<path class="w" d="M600.8 695.8L604.2 694.8L604.2 742.6C603.8 744.4 601 745 599.4 743.6Z"/>
<path class="w" d="M205.2 749.5L290 761.8L353 771.9L357.4 764.4C357.8 763.4 358.4 763 359.4 763L364.6 763L383.3 764.9L410 761L445.7 754.6L455.5 755.2C458.8 756.4 460.2 758.6 459.8 761.2C459.4 764 458 765.6 456.6 766.4L433.3 771.7L410 775.4L383.3 778.9L360 776.5C358.2 776.5 356.9 776.6 356.1 777.7L353.4 782.3C352.2 784.3 350 785.4 347.5 785.1L290 776.5L197.4 762.7C193 761.6 191.2 759 191.2 755.4C191.4 752 194 750 197 749.6Z"/>
<path class="p" d="M191.6 755.2C192.6 756.4 194 756.8 196 757.2L290 772.3L347.5 781.2C349.5 781.4 350.8 780.4 351.6 778.8L354.3 774C354.8 773 356 772.6 358.4 772.6L383.3 775.4L410 771.9L433.3 767.7L455 762.4C457.6 761.6 459 760.4 459.7 758.8"/>
<path class="p" d="M353 771.9C352.4 772.8 352 773.5 351.8 774"/>
<path class="w" d="M195.4 742L195.4 754.2C196.4 755.9 203.5 755.9 204.5 754.2L204.5 742Z"/>
<ellipse class="w" cx="199.95" cy="742" rx="4.55" ry="2"/>
<path class="w" d="M445.7 722.5L445.7 760.2C446.6 761.8 452.6 761.8 453.5 760.2L453.5 722.5Z"/>
<ellipse class="w" cx="449.6" cy="722.5" rx="3.9" ry="1.7"/>
<path class="p" d="M451.3 726.8L453 726.8M451.3 741L453 741"/>
<g transform="translate(0 0)">
<path class="p" d="M475.8 742.2L498.3 752.3C500.9 753.5 501 756.4 498.6 756.9L493.5 756.7C491.5 756.5 491 753.7 489.2 753.1L483 752.5C481 752.3 480.6 750.5 479 749.5C477.5 748.5 476 748 474 748L471.9 748"/>
<path class="p" d="M475.2 743.7L497.2 753.7C498.6 754.4 498.6 755.4 497.4 755.5L494 755.4"/>
</g>
<g transform="translate(0.8 14.6)">
<path class="p" d="M475.8 742.2L498.3 752.3C500.9 753.5 501 756.4 498.6 756.9L493.5 756.7C491.5 756.5 491 753.7 489.2 753.1L483 752.5C481 752.3 480.6 750.5 479 749.5C477.5 748.5 476 748 474 748L471.9 748"/>
<path class="p" d="M475.2 743.7L497.2 753.7C498.6 754.4 498.6 755.4 497.4 755.5L494 755.4"/>
</g>
<path class="p" d="M240.2 739.4L272 742.5C275.4 743 276.2 745.8 274.4 747.4C273.6 748.1 272.6 748.2 271 748.2L259.6 748.8C257 749.2 256 750 254.2 749.6C252.2 749.2 251.4 746.4 249.5 745.6C247.8 745 246 744.9 244.6 745.4L241 747.2"/>
<path class="p" d="M240.4 741L271.4 744C273 744.3 273.4 745.8 272.2 746.5L269 746.7"/>
<path d="M41.4 1001.8L59.5 973.6L63.7 974.9L64.7 978.5L91.7 963.5L97.2 966.4L97.2 988.3L65.2 1006.5L64.0 1015.1Z" fill="#fff" stroke="#000" stroke-width="1.7" stroke-linejoin="round"/>
<path class="p" style="stroke-width:.9" d="M41.4 1001.8L46.6 1003.9L63.2 975.9"/>
<path class="p" style="stroke-width:.9" d="M46.6 1003.9L64.0 1015.1"/>
<path class="p" style="stroke-width:.9" d="M63.2 975.9L64.2 983.2L96.3 967.1"/>
<text transform="matrix(0.60 -0.335 -0.05 1 63.4 1004.2)" style="font-size:22.5px;font-weight:bold;font-style:italic;stroke:#000;stroke-width:.7" x="0" y="0">FWD</text>
<path class="l" d="M291.5 108.8L306.4 118"/>
<path class="l" d="M372.6 114.2L384 120.4"/>
<path class="l" d="M404.7 132.8L494.5 184.9M500.5 188.4L584.4 236.9L567.5 246.6M564.5 248.4L508.6 281L523.5 289.6"/>
<path class="l" d="M329 131L384 162.4"/>
<path class="l" d="M477 321.8L492.5 331.1"/>
<path class="l" d="M534.7 356.2L564.5 373"/>
<path class="l" d="M553.6 437.2L546.9 448.6"/>
<path class="l" d="M553.6 460.9L732.6 564"/>
<path class="l" d="M111.7 409.8L120.7 417.6"/>
<path class="l" d="M163.6 399.6L163.6 422.7"/>
<path class="l" d="M139.1 505.9L152.7 513.7"/>
<path class="l" d="M237.3 471.9L237.3 489.4"/>
<path class="l" d="M376.4 389.6L376.4 399.6"/>
<path class="l" d="M376.4 412.9L376.4 458.2"/>
<path class="l" d="M376.2 476.8L376.2 485.3L511.4 563L511.4 613"/>
<path class="l" d="M514.3 517.7L514.3 531.2"/>
<path class="l" d="M514.5 549.8L514.5 613"/>
<path class="l" d="M449.7 564.2L449.7 585.6"/>
<path class="l" d="M449.7 608.4L449.7 640.8"/>
<path class="l" d="M449.5 667.2L449.5 706"/>
<path class="l" d="M408.8 574.8L395.9 582.5"/>
<path class="l" d="M169.5 623.2L200.4 625.8L200.4 651.7M200.4 656.9L200.4 717.5"/>
<path class="l" d="M208.3 745.6L219.2 747.2L222.3 739.4L234 740.2"/>
<path class="l" d="M453.5 731.3L472.1 741.2"/>
<path class="l" d="M453.5 742.2L470.6 753"/>
<path class="l" d="M632.1 617.2L632.1 628.8M632.1 650.8L632.1 696.6M632.1 710.4L632.1 760.6M632.1 762.8L632.1 764.2M632.1 766.5L632.1 829"/>
<path class="l" d="M324.8 26.5L295 98.4"/>
<path class="l" d="M366.2 53.1L348 88"/>
<path class="l" d="M407.7 75L397.3 117.9"/>
<path class="l" d="M268.1 156L285.8 220.2"/>
<path class="l" d="M222.5 180.3L243.3 239.4"/>
<path class="l" d="M174.9 207.3L214.6 254.6"/>
<path class="l" d="M387.9 177.9L381.5 205.1"/>
<path class="l" d="M409.4 190.1L404.2 219.4"/>
<path class="l" d="M433.8 200L428.9 231.6"/>
<path class="l" d="M459.7 216.8L454 247.9"/>
<path class="l" d="M486.4 229.7L478.6 260.8"/>
<path class="l" d="M591.7 282.4L556.7 310.9"/>
<path class="l" d="M410.4 327.7L432.4 310.9"/>
<path class="l" d="M446.6 349.7L460.9 327.7"/>
<path class="l" d="M597.9 344.2L581.1 368.9"/>
<path class="l" d="M622.5 360.6L601.8 380.5"/>
<path class="l" d="M650.2 376.6L634.2 399.9"/>
<path class="l" d="M678.2 392.2L654.9 416"/>
<path class="l" d="M701.5 406.4L671.7 427.2"/>
<path class="l" d="M730 424.6L701.5 449.2"/>
<path class="l" d="M594 437.5L568.8 416.3"/>
<path class="l" d="M57.5 296.3L49.7 337.7"/>
<path class="l" d="M102.3 324.8L82.9 380.5"/>
<path class="l" d="M136 344.2L106.2 399.9"/>
<path class="l" d="M176.2 352L218 338.8"/>
<path class="l" d="M175.8 381.3L218 371.4"/>
<path class="l" d="M325.9 340.9L371.2 365"/>
<path class="l" d="M325.9 388.3L344 399.9"/>
<path class="l" d="M410.1 469.9L384.2 463.4"/>
<path class="l" d="M474.9 464.7L504.2 470.7"/>
<path class="l" d="M475.2 514.6L503.2 528.1"/>
<path class="l" d="M247.7 441.7L278.8 439.1"/>
<path class="l" d="M247.7 503.1L278.8 507.5"/>
<path class="l" d="M59.6 454.3L154.7 483.5"/>
<path class="l" d="M59.6 488L103.6 487"/>
<path class="l" d="M744.3 503L743 560.2"/>
<path class="l" d="M372 526.8L421.8 552.7"/>
<path class="l" d="M671.7 566.6L640.7 584.8"/>
<path class="l" d="M373.8 637L425.6 599.4"/>
<path class="l" d="M59.6 672.4L155.4 650.7"/>
<path class="l" d="M246.4 689.4L208.4 716.7"/>
<path class="l" d="M282.7 723.1L269.7 741.2"/>
<path class="l" d="M462.2 708.6L491.4 708"/>
<path class="l" d="M501.6 752.1L523 740"/>
<path class="l" d="M501.6 767.7L533.5 760.4"/>
<path class="l" d="M642.6 700L682.2 705.1"/>
<path class="l" d="M335.9 785.1L310.4 863.4"/>
<path class="l" d="M374.6 676.2L414 662.5"/>
<g class="t">
<text transform="translate(315.2 24.9) scale(1.178 1)">3</text>
<text transform="translate(327.2 24.9) scale(1.178 1)">7</text>
<text transform="translate(358.3 48.1) scale(1.178 1)">3</text>
<text transform="translate(370.3 48.1) scale(1.178 1)">4</text>
<text transform="translate(397.7 71.7) scale(1.178 1)">3</text>
<text transform="translate(409.6 71.7) scale(1.178 1)">5</text>
<text transform="translate(250.3 152.1) scale(1.178 1)">4</text>
<text transform="translate(262.3 152.1) scale(1.178 1)">2</text>
<text transform="translate(203.9 178.1) scale(1.178 1)">4</text>
<text transform="translate(215.9 178.1) scale(1.178 1)">4</text>
<text transform="translate(156.8 204.7) scale(1.178 1)">4</text>
<text transform="translate(168.8 204.7) scale(1.178 1)">3</text>
<text transform="translate(365.2 221.6) scale(1.178 1)">3</text>
<text transform="translate(377.2 221.6) scale(1.178 1)">8</text>
<text transform="translate(390.0 235.9) scale(1.178 1)">3</text>
<text transform="translate(402.0 235.9) scale(1.178 1)">9</text>
<text transform="translate(414.8 250.2) scale(1.178 1)">3</text>
<text transform="translate(426.8 250.2) scale(1.178 1)">6</text>
<text transform="translate(440.1 263.7) scale(1.178 1)">4</text>
<path class="k" transform="translate(452.1 263.7)" d="M8.25 0L6.3 0L6.3 -8.7L2.5 -8.7L2.5 -10C4.7 -10.2 6.3 -10.9 6.9 -12L8.25 -12Z"/>
<text transform="translate(464.6 278.5) scale(1.178 1)">4</text>
<text transform="translate(476.6 278.5) scale(1.178 1)">0</text>
<text transform="translate(591.6 279.9) scale(1.178 1)">2</text>
<text transform="translate(603.6 279.9) scale(1.178 1)">5</text>
<text transform="translate(386.9 343.6) scale(1.178 1)">2</text>
<text transform="translate(398.9 343.6) scale(1.178 1)">7</text>
<text transform="translate(426.3 365.7) scale(1.178 1)">3</text>
<text transform="translate(438.3 365.7) scale(1.178 1)">0</text>
<text transform="translate(591.0 342.0) scale(1.178 1)">2</text>
<text transform="translate(603.0 342.0) scale(1.178 1)">8</text>
<text transform="translate(618.7 358.3) scale(1.178 1)">2</text>
<text transform="translate(630.7 358.3) scale(1.178 1)">9</text>
<text transform="translate(646.5 373.9) scale(1.178 1)">2</text>
<text transform="translate(658.4 373.9) scale(1.178 1)">6</text>
<text transform="translate(674.3 390.0) scale(1.178 1)">3</text>
<text transform="translate(686.3 390.0) scale(1.178 1)">3</text>
<text transform="translate(702.2 405.8) scale(1.178 1)">3</text>
<text transform="translate(714.2 405.8) scale(1.178 1)">2</text>
<text transform="translate(729.6 422.4) scale(1.178 1)">3</text>
<path class="k" transform="translate(741.6 422.4)" d="M8.25 0L6.3 0L6.3 -8.7L2.5 -8.7L2.5 -10C4.7 -10.2 6.3 -10.9 6.9 -12L8.25 -12Z"/>
<text transform="translate(595.8 454.3) scale(1.178 1)">2</text>
<text transform="translate(607.8 454.3) scale(1.178 1)">4</text>
<text transform="translate(46.6 293.6) scale(1.178 1)">2</text>
<text transform="translate(58.6 293.6) scale(1.178 1)">2</text>
<text transform="translate(94.0 321.1) scale(1.178 1)">2</text>
<path class="k" transform="translate(106.0 321.1)" d="M8.25 0L6.3 0L6.3 -8.7L2.5 -8.7L2.5 -10C4.7 -10.2 6.3 -10.9 6.9 -12L8.25 -12Z"/>
<text transform="translate(130.0 341.6) scale(1.178 1)">2</text>
<text transform="translate(142.0 341.6) scale(1.178 1)">0</text>
<path class="k" transform="translate(221.4 342.0)" d="M8.25 0L6.3 0L6.3 -8.7L2.5 -8.7L2.5 -10C4.7 -10.2 6.3 -10.9 6.9 -12L8.25 -12Z"/>
<text transform="translate(233.3 342.0) scale(1.178 1)">6</text>
<path class="k" transform="translate(221.3 374.7)" d="M8.25 0L6.3 0L6.3 -8.7L2.5 -8.7L2.5 -10C4.7 -10.2 6.3 -10.9 6.9 -12L8.25 -12Z"/>
<text transform="translate(233.3 374.7) scale(1.178 1)">5</text>
<text transform="translate(300.6 340.7) scale(1.178 1)">4</text>
<text transform="translate(312.6 340.7) scale(1.178 1)">7</text>
<text transform="translate(300.8 388.3) scale(1.178 1)">4</text>
<text transform="translate(312.8 388.3) scale(1.178 1)">6</text>
<path class="k" transform="translate(277.8 444.3)" d="M8.25 0L6.3 0L6.3 -8.7L2.5 -8.7L2.5 -10C4.7 -10.2 6.3 -10.9 6.9 -12L8.25 -12Z"/>
<text transform="translate(289.8 444.3) scale(1.178 1)">9</text>
<text transform="translate(411.9 478.4) scale(1.178 1)">4</text>
<text transform="translate(423.9 478.4) scale(1.178 1)">5</text>
<text transform="translate(461.2 470.7) scale(1.178 1)">6</text>
<path class="k" transform="translate(34.8 457.6)" d="M8.25 0L6.3 0L6.3 -8.7L2.5 -8.7L2.5 -10C4.7 -10.2 6.3 -10.9 6.9 -12L8.25 -12Z"/>
<text transform="translate(46.8 457.6) scale(1.178 1)">5</text>
<path class="k" transform="translate(34.7 493.9)" d="M8.25 0L6.3 0L6.3 -8.7L2.5 -8.7L2.5 -10C4.7 -10.2 6.3 -10.9 6.9 -12L8.25 -12Z"/>
<text transform="translate(46.7 493.9) scale(1.178 1)">7</text>
<path class="k" transform="translate(277.8 515.2)" d="M8.25 0L6.3 0L6.3 -8.7L2.5 -8.7L2.5 -10C4.7 -10.2 6.3 -10.9 6.9 -12L8.25 -12Z"/>
<text transform="translate(289.8 515.2) scale(1.178 1)">8</text>
<text transform="translate(461.0 514.4) scale(1.178 1)">7</text>
<text transform="translate(734.3 500.2) scale(1.178 1)">2</text>
<text transform="translate(746.2 500.2) scale(1.178 1)">3</text>
<text transform="translate(356.8 528.1) scale(1.178 1)">3</text>
<text transform="translate(673.9 567.4) scale(1.178 1)">2</text>
<text transform="translate(359.7 651.1) scale(1.178 1)">8</text>
<path class="k" transform="translate(34.6 682.5)" d="M8.25 0L6.3 0L6.3 -8.7L2.5 -8.7L2.5 -10C4.7 -10.2 6.3 -10.9 6.9 -12L8.25 -12Z"/>
<text transform="translate(46.6 682.5) scale(1.178 1)">4</text>
<text transform="translate(359.3 687.7) scale(1.178 1)">5</text>
<path class="k" transform="translate(245.3 690.1)" d="M8.25 0L6.3 0L6.3 -8.7L2.5 -8.7L2.5 -10C4.7 -10.2 6.3 -10.9 6.9 -12L8.25 -12Z"/>
<text transform="translate(257.3 690.1) scale(1.178 1)">2</text>
<text transform="translate(493.7 712.7) scale(1.178 1)">9</text>
<path class="k" transform="translate(683.5 711.1)" d="M8.25 0L6.3 0L6.3 -8.7L2.5 -8.7L2.5 -10C4.7 -10.2 6.3 -10.9 6.9 -12L8.25 -12Z"/>
<path class="k" transform="translate(275.9 719.9)" d="M8.25 0L6.3 0L6.3 -8.7L2.5 -8.7L2.5 -10C4.7 -10.2 6.3 -10.9 6.9 -12L8.25 -12Z"/>
<text transform="translate(287.8 719.9) scale(1.178 1)">3</text>
<text transform="translate(524.7 738.8) scale(1.178 1)">4</text>
<path class="k" transform="translate(533.6 764.0)" d="M8.25 0L6.3 0L6.3 -8.7L2.5 -8.7L2.5 -10C4.7 -10.2 6.3 -10.9 6.9 -12L8.25 -12Z"/>
<text transform="translate(545.5 764.0) scale(1.178 1)">0</text>
<path class="k" transform="translate(291.3 878.5)" d="M8.25 0L6.3 0L6.3 -8.7L2.5 -8.7L2.5 -10C4.7 -10.2 6.3 -10.9 6.9 -12L8.25 -12Z"/>
<path class="k" transform="translate(303.3 878.5)" d="M8.25 0L6.3 0L6.3 -8.7L2.5 -8.7L2.5 -10C4.7 -10.2 6.3 -10.9 6.9 -12L8.25 -12Z"/>
</g>
<text class="cap" transform="translate(11.1 1040.3) scale(1.061 1)">6</text>
<text class="cap" transform="translate(21.9 1040.3) scale(1.061 1)">D</text>
<text class="cap" transform="translate(35.9 1040.3) scale(1.061 1)">6</text>
<text class="cap" transform="translate(46.7 1040.3) scale(1.061 1)">7</text>
<path class="k" transform="translate(57.5 1040.3) scale(0.9 1)" d="M8.25 0L6.3 0L6.3 -8.7L2.5 -8.7L2.5 -10C4.7 -10.2 6.3 -10.9 6.9 -12L8.25 -12Z"/>
<path class="k" transform="translate(68.3 1040.3) scale(0.9 1)" d="M8.25 0L6.3 0L6.3 -8.7L2.5 -8.7L2.5 -10C4.7 -10.2 6.3 -10.9 6.9 -12L8.25 -12Z"/>
<text class="cap" transform="translate(79.1 1040.3) scale(1.061 1)">0</text>
<text class="cap" transform="translate(89.9 1040.3) scale(1.061 1)">-</text>
<text class="cap" transform="translate(96.4 1040.3) scale(1.061 1)">K</text>
<text class="cap" transform="translate(109.3 1040.3) scale(1.061 1)">2</text>
<text class="cap" transform="translate(120.1 1040.3) scale(1.061 1)">0</text>
<text class="cap" transform="translate(130.9 1040.3) scale(1.061 1)">0</text>
</svg>
</body></html>
